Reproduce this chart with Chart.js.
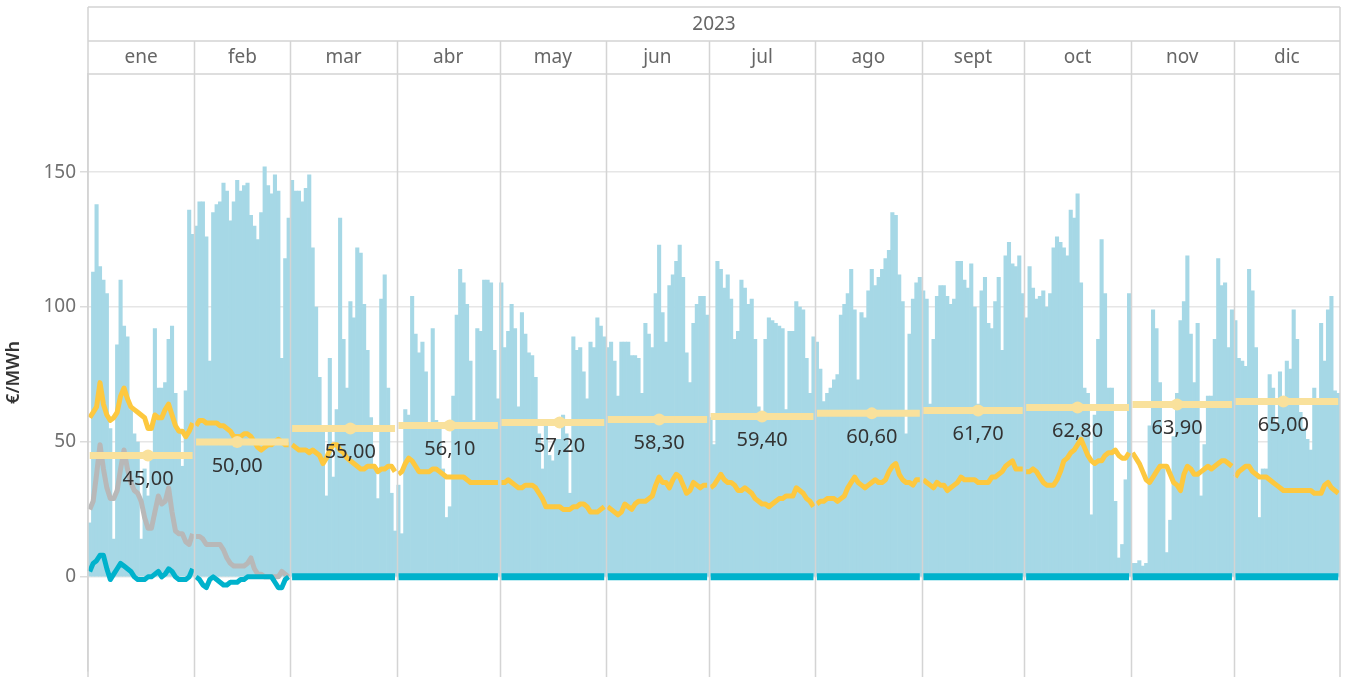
<!DOCTYPE html>
<html>
<head>
<meta charset="utf-8">
<script src="https://cdn.jsdelivr.net/npm/chart.js@4.4.0/dist/chart.umd.min.js"></script>
<style>
  html, body { margin: 0; padding: 0; background: #fff; }
  #wrap { width: 1346px; height: 677px; position: relative; }
</style>
</head>
<body>
<div id="wrap"><canvas id="myChart"></canvas></div>
<script>
const yearLabel = '2023';
const months = ['ene', 'feb', 'mar', 'abr', 'may', 'jun', 'jul', 'ago', 'sept', 'oct', 'nov', 'dic'];
const monthDays = [31, 28, 31, 30, 31, 30, 31, 31, 30, 31, 30, 31];
const monthAvg = [45.0, 50.0, 55.0, 56.1, 57.2, 58.3, 59.4, 60.6, 61.7, 62.8, 63.9, 65.0];
const markDay = [18, 13, 18, 16, 18, 16, 16, 17, 17, 16, 14, 15];
const yTicks = [0, 50, 100, 150];

// daily bars, one row per month
const barValues = [
  20, 113, 138, 115, 110, 105, 55, 14, 86, 110, 93, 89, 62, 53, 50, 14, 40, 30, 45, 92, 70, 70, 72, 88, 93, 68, 54, 41, 69, 136, 127,
  130, 139, 139, 126, 80, 135, 138, 139, 146, 143, 132, 139, 147, 143, 145, 146, 134, 130, 125, 135, 152, 145, 142, 149, 143, 81, 118, 133,
  147, 143, 143, 139, 144, 149, 122, 100, 74, 55, 30, 81, 37, 62, 133, 88, 70, 102, 96, 122, 120, 101, 84, 59, 41, 29, 103, 112, 70, 31, 17,
  34, 16, 62, 60, 104, 90, 83, 87, 76, 57, 92, 58, 57, 40, 22, 26, 67, 97, 114, 109, 101, 80, 58, 92, 91, 110, 110, 109, 84, 66,
  109, 85, 91, 101, 92, 63, 98, 90, 83, 82, 74, 53, 40, 56, 45, 43, 51, 51, 60, 53, 31, 89, 84, 85, 76, 66, 87, 85, 96, 93, 89,
  85, 87, 80, 67, 87, 87, 87, 82, 82, 81, 68, 94, 90, 85, 105, 123, 98, 87, 108, 112, 117, 123, 111, 83, 72, 94, 101, 104, 104, 97,
  59, 49, 117, 114, 107, 112, 103, 88, 91, 110, 107, 101, 103, 88, 63, 60, 88, 96, 95, 94, 93, 92, 62, 91, 91, 102, 100, 99, 81, 68, 89,
  87, 77, 65, 68, 70, 73, 75, 97, 101, 105, 114, 99, 73, 98, 96, 106, 114, 108, 111, 114, 118, 121, 135, 134, 112, 102, 53, 90, 103, 109, 111,
  106, 103, 64, 88, 104, 108, 108, 104, 101, 103, 117, 117, 110, 107, 116, 100, 64, 106, 111, 94, 92, 102, 111, 84, 119, 124, 116, 115, 119, 105,
  96, 115, 107, 103, 104, 106, 100, 105, 122, 126, 124, 122, 119, 136, 133, 142, 109, 70, 68, 23, 60, 88, 125, 105, 70, 70, 28, 7, 12, 36, 105,
  5, 5, 6, 4, 5, 56, 99, 92, 72, 40, 9, 21, 52, 68, 95, 102, 119, 90, 72, 94, 30, 49, 67, 67, 88, 118, 108, 109, 85, 99,
  95, 81, 80, 78, 114, 106, 85, 22, 40, 40, 75, 70, 57, 76, 65, 80, 77, 99, 88, 61, 55, 51, 47, 70, 64, 94, 80, 99, 104, 69, 68
];

const goldLine = [
  59, 61, 63, 72, 64, 60, 58, 59, 61, 67, 70, 66, 63, 62, 61, 60, 59, 55, 55, 60, 59, 59, 62, 64, 60, 56, 54, 54, 52, 54, 57,
  56, 58, 58, 57, 57, 57, 57, 56, 56, 55, 54, 52, 52, 52, 53, 53, 52, 50, 48, 47, 48, 49, 49, 50, 51, 50, 49, 49,
  49, 48, 47, 47, 47, 46, 47, 46, 45, 42, 44, 47, 49, 49, 47, 46, 44, 43, 42, 41, 40, 40, 41, 41, 41, 39, 40, 40, 41, 41, 39,
  38, 39, 42, 44, 43, 41, 39, 39, 39, 39, 40, 40, 39, 38, 37, 37, 37, 37, 37, 37, 36, 35, 35, 35, 35, 35, 35, 35, 35, 35,
  35, 35, 36, 35, 34, 33, 33, 34, 34, 34, 33, 31, 29, 26, 26, 26, 26, 26, 25, 25, 25, 26, 26, 27, 27, 26, 24, 24, 24, 25, 26,
  26, 25, 24, 23, 24, 27, 26, 25, 27, 28, 28, 28, 29, 30, 34, 37, 35, 35, 33, 36, 38, 37, 34, 31, 32, 35, 34, 33, 34, 34,
  33, 34, 36, 38, 36, 35, 35, 34, 32, 32, 33, 32, 31, 29, 28, 27, 27, 26, 27, 28, 29, 29, 30, 30, 30, 33, 32, 31, 29, 28, 26,
  27, 28, 28, 29, 29, 29, 28, 29, 30, 33, 35, 37, 35, 34, 33, 34, 35, 36, 35, 35, 36, 39, 41, 42, 38, 36, 35, 35, 34, 36, 36,
  36, 35, 34, 33, 35, 34, 34, 32, 33, 34, 35, 37, 36, 36, 36, 36, 35, 35, 35, 35, 37, 37, 38, 39, 41, 42, 43, 40, 40, 40,
  39, 39, 40, 39, 37, 35, 34, 34, 34, 36, 39, 43, 44, 46, 47, 49, 51, 48, 45, 43, 42, 43, 43, 45, 46, 46, 47, 45, 44, 44, 46,
  46, 44, 42, 39, 36, 35, 37, 39, 41, 41, 41, 38, 35, 34, 32, 38, 41, 40, 38, 38, 39, 40, 41, 40, 41, 42, 43, 43, 42, 41,
  37, 39, 40, 41, 41, 39, 38, 37, 37, 37, 36, 35, 34, 33, 32, 32, 32, 32, 32, 32, 32, 32, 32, 31, 31, 31, 34, 35, 33, 32, 31
];

// only reported for ene and feb
const greyLine = [
  25, 28, 38, 49, 40, 33, 29, 29, 32, 40, 47, 40, 35, 32, 31, 28, 22, 18, 18, 24, 30, 27, 28, 33, 24, 17, 16, 16, 13, 12, 16,
  15, 15, 14, 12, 12, 12, 12, 12, 10, 7, 5, 4, 4, 4, 4, 5, 7, 3, 1, 1, 0, 0, 0, 0, 0, 2, 1, 0
];
const tealJanFeb = [
  2, 5, 6, 8, 8, 3, -1, 1, 3, 5, 4, 3, 2, 0, -1, -1, -1, 0, 0, 1, 2, 0, 1, 3, 2, 0, -1, -1, -1, 0, 3,
  0, -1, -3, -4, -1, 0, -1, -2, -3, -3, -2, -2, -2, -1, -1, 0, 0, 0, 0, 0, 0, 0, 0, -2, -4, -4, -1, 0
];
const tealRestValue = 0;

const FONT = "'Noto Sans', 'DejaVu Sans', sans-serif";
const BAR_COLOR = '#a6d8e6';
const GOLD = '#fdc83f';
const STEP = '#f9e19c';
const GREY = '#b8b8b8';
const TEAL = '#00b2cc';
const RULE = '#d4d4d4';

// day -> month table, and the series the library needs
const monthOf = [];
const monthStart = [];
monthDays.forEach((n, m) => {
  monthStart.push(monthOf.length);
  for (let d = 0; d < n; d++) monthOf.push(m);
});
const labels = monthOf.map((m, i) => months[m] + ' ' + (i - monthStart[m] + 1));
const stepData = monthOf.map(m => monthAvg[m]);
const markData = monthOf.map((m, i) => (i - monthStart[m] + 1 === markDay[m]) ? monthAvg[m] : null);
const greyData = monthOf.map((m, i) => i < greyLine.length ? greyLine[i] : null);
const tealData = monthOf.map((m, i) => i < tealJanFeb.length ? tealJanFeb[i] : tealRestValue);

const breakAtMonth = color => c =>
  monthOf[c.p0DataIndex] !== monthOf[c.p1DataIndex] ? 'rgba(0,0,0,0)' : color;

const fmt = v => v.toFixed(2).replace('.', ',');

const framePlugin = {
  id: 'frame',
  afterDraw(chart) {
    const { ctx, chartArea: a, scales } = chart;
    const x = scales.x;
    const half = (x.getPixelForValue(1) - x.getPixelForValue(0)) / 2;
    const top = 7, mid = 41, low = 74, bottom = chart.height;

    ctx.save();
    ctx.strokeStyle = RULE;
    ctx.lineWidth = 1.5;
    ctx.beginPath();
    ctx.moveTo(a.left, top); ctx.lineTo(a.right, top);
    ctx.moveTo(a.left, mid); ctx.lineTo(a.right, mid);
    ctx.moveTo(a.left, low); ctx.lineTo(a.right, low);
    ctx.moveTo(a.left, top); ctx.lineTo(a.left, bottom);
    ctx.moveTo(a.right, top); ctx.lineTo(a.right, bottom);
    for (let m = 1; m < months.length; m++) {
      const px = Math.round(x.getPixelForValue(monthStart[m]) - half) + 0.5;
      ctx.moveTo(px, mid); ctx.lineTo(px, bottom);
    }
    ctx.stroke();

    ctx.fillStyle = '#666';
    ctx.textAlign = 'center';
    ctx.textBaseline = 'middle';
    ctx.font = '19px ' + FONT;
    ctx.fillText(yearLabel, (a.left + a.right) / 2, 25);
    for (let m = 0; m < months.length; m++) {
      const x0 = x.getPixelForValue(monthStart[m]) - half;
      const x1 = x.getPixelForValue(monthStart[m] + monthDays[m] - 1) + half;
      ctx.fillText(months[m], (x0 + x1) / 2, 58);
    }

    // monthly average labels
    ctx.fillStyle = '#333';
    ctx.font = '20px ' + FONT;
    for (let m = 0; m < months.length; m++) {
      const i = monthStart[m] + markDay[m] - 1;
      const px = x.getPixelForValue(i);
      const py = scales.y.getPixelForValue(monthAvg[m]) + 24;
      ctx.fillText(fmt(monthAvg[m]), px, py);
    }
    ctx.restore();
  }
};

Chart.defaults.font.family = FONT;

const ctx = document.getElementById('myChart').getContext('2d');
const myChart = new Chart(ctx, {
  type: 'bar',
  data: {
    labels: labels,
    datasets: [
      {
        type: 'line', data: markData, order: 0,
        showLine: false, pointRadius: 6, pointBackgroundColor: STEP, pointBorderWidth: 0
      },
      {
        type: 'line', data: stepData, order: 1,
        borderColor: STEP, borderWidth: 7, borderCapStyle: 'butt', pointRadius: 0,
        segment: { borderColor: breakAtMonth(STEP) }
      },
      {
        type: 'line', data: tealData, order: 2,
        borderColor: TEAL, borderWidth: 5, borderCapStyle: 'butt', borderJoinStyle: 'round',
        pointRadius: 0,
        segment: {
          borderColor: breakAtMonth(TEAL),
          borderWidth: c => monthOf[c.p0DataIndex] >= 2 ? 7 : 5
        }
      },
      {
        type: 'line', data: greyData, order: 3,
        borderColor: GREY, borderWidth: 5, borderCapStyle: 'butt', borderJoinStyle: 'round',
        pointRadius: 0, spanGaps: false,
        segment: { borderColor: breakAtMonth(GREY) }
      },
      {
        type: 'line', data: goldLine, order: 4,
        borderColor: GOLD, borderWidth: 5, borderCapStyle: 'butt', borderJoinStyle: 'round',
        pointRadius: 0,
        segment: { borderColor: breakAtMonth(GOLD) }
      },
      {
        type: 'bar', data: barValues, order: 10,
        backgroundColor: BAR_COLOR, borderWidth: 0,
        barPercentage: 1.0, categoryPercentage: 1.0
      }
    ]
  },
  options: {
    responsive: true,
    maintainAspectRatio: false,
    animation: false,
    layout: { padding: { top: 74, right: 6, left: 0, bottom: 0 } },
    plugins: {
      legend: { display: false },
      tooltip: { enabled: false }
    },
    scales: {
      x: {
        display: false,
        offset: true,
        grid: { display: false }
      },
      y: {
        min: -34.9,
        max: 186.4,
        afterBuildTicks: s => { s.ticks = yTicks.map(v => ({ value: v })); },
        afterFit: s => { s.width = 88; s.paddingTop = 0; s.paddingBottom = 0; },
        ticks: { color: '#707070', font: { size: 19 }, padding: 4 },
        grid: { color: '#e6e6e6', lineWidth: 1.5, tickLength: 8, tickColor: '#dcdcdc' },
        border: { display: true, color: RULE, width: 1.5 },
        title: {
          display: true, text: '€/MWh', color: '#333',
          font: { size: 18, weight: '600' }, padding: { top: 3, bottom: 0 }
        }
      }
    }
  },
  plugins: [framePlugin]
});
</script>
</body>
</html>
